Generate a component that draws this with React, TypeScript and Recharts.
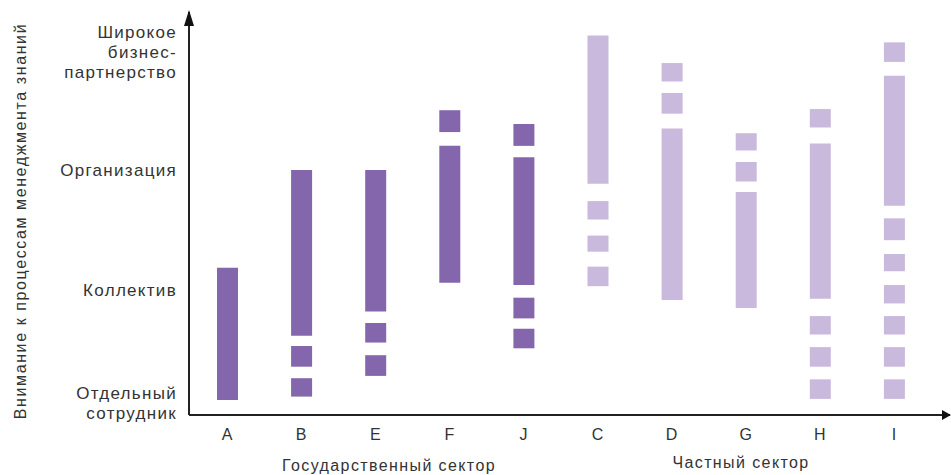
import { BarChart, Bar, XAxis, YAxis, Cell } from "recharts";

const categories = ["A", "B", "E", "F", "J", "C", "D", "G", "H", "I"];
const sectors = ["gov", "gov", "gov", "gov", "gov", "priv", "priv", "priv", "priv", "priv"];

// level scale: 1 = отдельный сотрудник ... 4 = широкое партнерство
const levelTicks = [0.97, 1.95, 3.0, 4.02];
const levelLabels = [
  ["Отдельный", "сотрудник"],
  ["Коллектив"],
  ["Организация"],
  ["Широкое", "бизнес-", "партнерство"],
];

// segments [low, high] for every organisation
const segA = [[1.0, 2.15]];
const segB = [[1.03, 1.19], [1.29, 1.47], [1.56, 3.0]];
const segE = [[1.21, 1.39], [1.5, 1.67], [1.77, 3.0]];
const segF = [[2.02, 3.21], [3.33, 3.52]];
const segJ = [[1.45, 1.62], [1.71, 1.89], [2.0, 3.11], [3.21, 3.4]];
const segC = [[1.99, 2.16], [2.29, 2.43], [2.57, 2.73], [2.88, 4.17]];
const segD = [[1.87, 3.36], [3.49, 3.67], [3.77, 3.93]];
const segG = [[1.8, 2.81], [2.9, 3.07], [3.17, 3.32]];
const segH = [[1.01, 1.18], [1.29, 1.46], [1.57, 1.73], [1.88, 3.23], [3.37, 3.53]];
const segI = [
  [1.01, 1.18], [1.29, 1.46], [1.57, 1.73], [1.84, 2.0],
  [2.12, 2.27], [2.39, 2.58], [2.69, 3.82], [3.94, 4.11],
];

const allSegments = [segA, segB, segE, segF, segJ, segC, segD, segG, segH, segI];
const maxSegs = Math.max(...allSegments.map((s) => s.length));

const rows = categories.map((name, i) => {
  const row: any = { name, sector: sectors[i] };
  allSegments[i].forEach((s, k) => {
    row["s" + k] = s;
  });
  return row;
});

const DARK = "#8466ad";
const LIGHT = "#c9b9dc";
const FONT = "'Liberation Sans', Arial, sans-serif";

const W = 951;
const H = 475;
const plotLeft = 189;
const plotTop = 12;
const plotBottom = 415;

const YTick = ({ x, y, payload }: any) => {
  const idx = levelTicks.indexOf(payload.value);
  const lines = idx >= 0 ? levelLabels[idx] : [];
  const n = lines.length;
  return (
    <g>
      {lines.map((l, i) => (
        <text
          key={i}
          x={x - 4}
          y={y + (i - (n - 1) / 2) * 20}
          textAnchor="end"
          dominantBaseline="central"
          fill="#333"
          fontSize={17}
          letterSpacing={1.3}
          fontFamily={FONT}
        >
          {l}
        </text>
      ))}
    </g>
  );
};

const App = () => {
  return (
    <div style={{ position: "absolute", left: 0, top: 0, width: W, height: H, background: "#fff" }}>
      <BarChart
        width={W}
        height={H}
        data={rows}
        barSize={21}
        barGap={-21}
        margin={{ top: plotTop, right: 1, left: 0, bottom: H - plotBottom - 30 }}
      >
        <XAxis
          dataKey="name"
          height={30}
          padding={{ left: 1, right: 19 }}
          tickLine={false}
          tickSize={0}
          tickMargin={14}
          axisLine={{ stroke: "#222", strokeWidth: 2 }}
          tick={{ fill: "#333", fontSize: 16, fontFamily: FONT }}
        />
        <YAxis
          type="number"
          width={plotLeft}
          domain={[0.87, 4.374]}
          ticks={levelTicks}
          allowDataOverflow
          tickLine={false}
          axisLine={{ stroke: "#222", strokeWidth: 2 }}
          tick={<YTick />}
        />
        {Array.from({ length: maxSegs }).map((_, k) => (
          <Bar key={k} dataKey={"s" + k} isAnimationActive={false}>
            {rows.map((r, i) => (
              <Cell key={i} fill={r.sector === "gov" ? DARK : LIGHT} />
            ))}
          </Bar>
        ))}
      </BarChart>
      <svg
        width={W}
        height={H}
        style={{ position: "absolute", left: 0, top: 0, pointerEvents: "none" }}
      >
        <polygon points={`${plotLeft},${plotTop - 2} ${plotLeft - 5},${plotTop + 14} ${plotLeft + 5},${plotTop + 14}`} fill="#111" />
        <polygon points={`${W},${plotBottom} ${W - 9},${plotBottom - 5} ${W - 9},${plotBottom + 5}`} fill="#111" />
        <text
          transform={`translate(20, 221) rotate(-90)`}
          textAnchor="middle"
          dominantBaseline="central"
          fill="#333"
          fontSize={16}
          letterSpacing={1.6}
          fontFamily={FONT}
        >
          Внимание к процессам менеджмента знаний
        </text>
        <text x={389} y={465} textAnchor="middle" dominantBaseline="central" fill="#333" fontSize={16} letterSpacing={1.4} fontFamily={FONT}>
          Государственный сектор
        </text>
        <text x={741} y={462} textAnchor="middle" dominantBaseline="central" fill="#333" fontSize={16} letterSpacing={1.4} fontFamily={FONT}>
          Частный сектор
        </text>
      </svg>
    </div>
  );
};

export default App;
